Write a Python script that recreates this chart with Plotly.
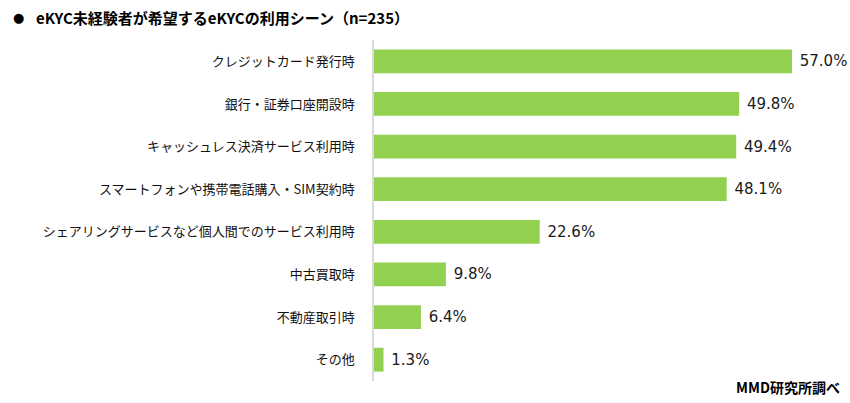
import plotly.graph_objects as go

categories = ["クレジットカード発行時", "銀行・証券口座開設時", "キャッシュレス決済サービス利用時",
              "スマートフォンや携帯電話購入・SIM契約時", "シェアリングサービスなど個人間でのサービス利用時",
              "中古買取時", "不動産取引時", "その他"]
values = [57.0, 49.8, 49.4, 48.1, 22.6, 9.8, 6.4, 1.3]
title = "eKYC未経験者が希望するeKYCの利用シーン（n=235）"
source = "MMD研究所調べ"

FONT = "Noto Sans CJK JP"
L, R, T, B = 374, 10, 40, 22
W, H = 850, 403
PW, PH = W - L - R, H - T - B


def px(x):
    return (x - L) / PW


def py(y):
    return (H - B - y) / PH


fig = go.Figure(go.Bar(
    x=values, y=categories, orientation="h",
    marker=dict(color="#92D050", line=dict(width=0)),
    text=[f" {v:.1f}%" for v in values], textposition="outside",
    textfont=dict(family="DejaVu Sans", size=15, color="#1a1a1a"),
    cliponaxis=False,
))

fig.update_layout(
    width=W, height=H,
    margin=dict(l=L, r=R, t=T, b=B),
    paper_bgcolor="white", plot_bgcolor="white",
    bargap=0.44,
    showlegend=False,
    xaxis=dict(range=[0, 63.55], visible=False, fixedrange=True),
    yaxis=dict(autorange="reversed", showline=True, linecolor="#d9d9d9", linewidth=1.5,
               ticks="", ticklabelstandoff=15,
               tickfont=dict(family=FONT, size=13, color="#111111")),
)

fig.add_annotation(text="●", xref="paper", yref="paper",
                   x=px(11), y=py(17), xanchor="left", yanchor="middle", showarrow=False,
                   font=dict(family="DejaVu Sans", size=13, color="#000000"))
fig.add_annotation(text=f"<b>{title}</b>", xref="paper", yref="paper",
                   x=px(34), y=py(17), xanchor="left", yanchor="middle", showarrow=False,
                   font=dict(family=FONT, size=15, color="#000000"))
fig.add_annotation(text=f"<b>{source}</b>", xref="paper", yref="paper",
                   x=px(842), y=py(387), xanchor="right", yanchor="middle", showarrow=False,
                   font=dict(family=FONT, size=14, color="#000000"))

fig.write_html("out.html")
